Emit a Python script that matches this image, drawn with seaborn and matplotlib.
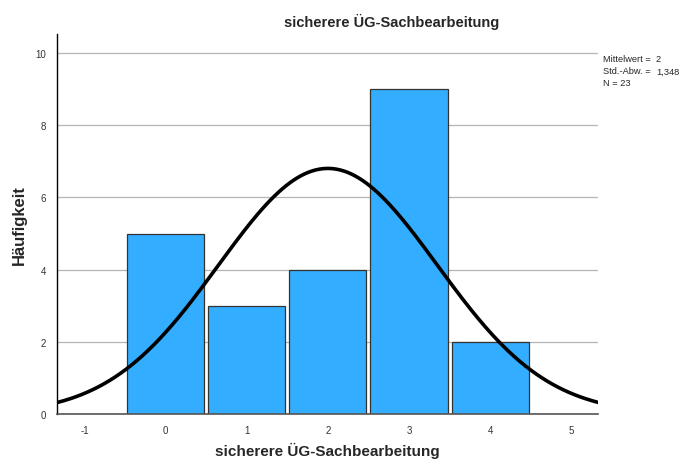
import numpy as np
import pandas as pd
import matplotlib
matplotlib.use("Agg")
import matplotlib.pyplot as plt
import seaborn as sns

# data
categories = [0, 1, 2, 3, 4]
counts = [5, 3, 4, 9, 2]
title = "sicherere ÜG-Sachbearbeitung"

values = np.repeat(categories, counts)
df = pd.DataFrame({"wert": values})
n = len(values)
mean = values.mean()
sd = values.std(ddof=1)

sns.set_style("white")
plt.rcParams['font.family'] = ['Liberation Sans', 'DejaVu Sans']
plt.rcParams['axes.unicode_minus'] = False

fig = plt.figure(figsize=(6.9, 4.64), dpi=100)
ax = fig.add_axes([0.0826, 0.1056, 0.784, 0.819])

ax.set_xlim(-1.34, 5.33)
ax.set_ylim(0, 10.53)
ax.set_yticks([0, 2, 4, 6, 8, 10])
ax.yaxis.grid(True, color="#b4b4b4", linewidth=0.9)
ax.set_axisbelow(True)

sns.histplot(data=df, x="wert", discrete=True, shrink=0.95, color="#33adff",
             edgecolor="#333333", linewidth=0.9, alpha=1, ax=ax)

# normal curve scaled to counts (bin width 1)
xs = np.linspace(-1.34, 5.33, 300)
ys = n / (sd * np.sqrt(2 * np.pi)) * np.exp(-0.5 * ((xs - mean) / sd) ** 2)
sns.lineplot(x=xs, y=ys, color="black", linewidth=2.6, ax=ax)

ax.set_xticks(range(-1, 6))
ax.tick_params(axis="both", labelsize=7, colors="#333333", length=0, pad=8)
for s in ["top", "right"]:
    ax.spines[s].set_visible(False)
ax.spines["left"].set_color("black")
ax.spines["bottom"].set_color("#555555")
ax.spines["left"].set_linewidth(1)
ax.spines["bottom"].set_linewidth(1.2)

ax.set_xlabel(title, fontsize=11, fontweight="bold", labelpad=5)
ax.set_ylabel("Häufigkeit", fontsize=12, fontweight="bold", labelpad=6)
fig.text(392 / 690, 1 - 22 / 464, title, ha="center", va="center",
         fontsize=10.5, fontweight="bold")

fig.text(603 / 690, 1 - 60 / 464, "Mittelwert =  %g" % round(mean, 3), fontsize=6.7, va="center")
fig.text(603 / 690, 1 - 72 / 464, "Std.-Abw. =", fontsize=6.7, va="center")
fig.text(656 / 690, 1 - 72 / 464, ("%.3f" % sd).replace(".", ","), fontsize=6.7, va="center")
fig.text(603 / 690, 1 - 84 / 464, "N = %d" % n, fontsize=6.7, va="center")

fig.savefig("out.png", dpi=100)
